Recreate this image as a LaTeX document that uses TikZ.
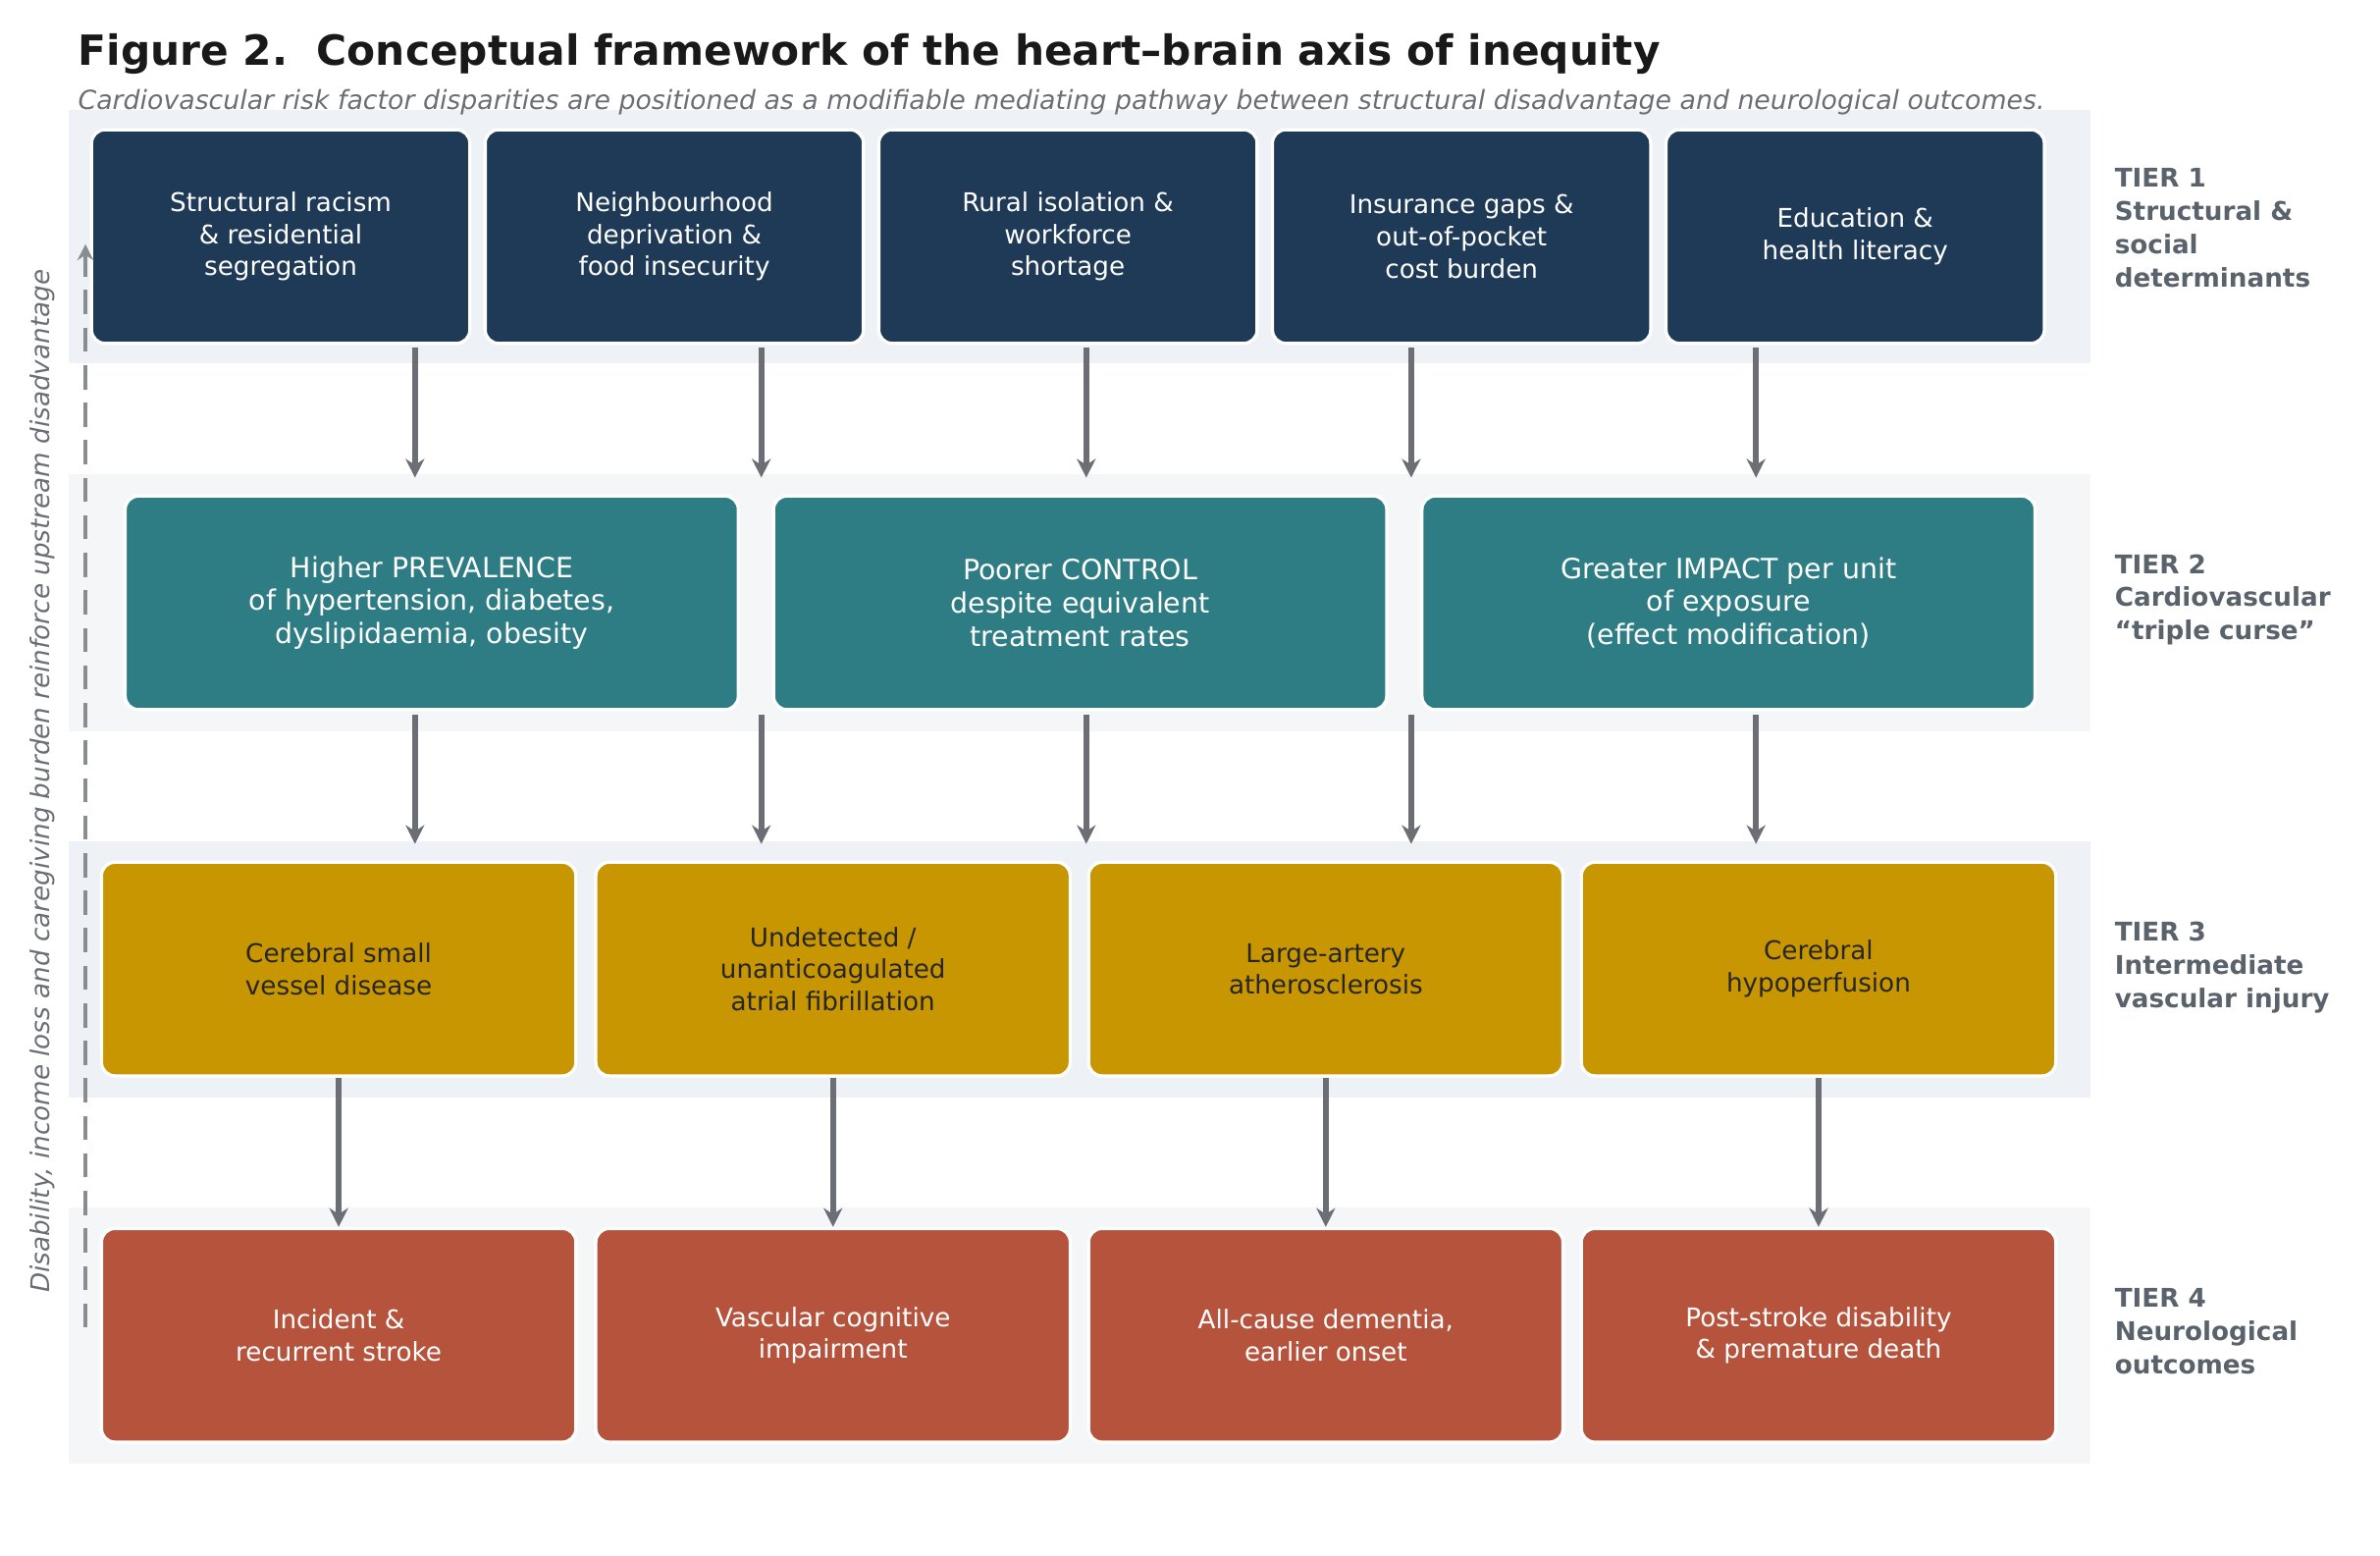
\documentclass[tikz,border=0pt]{standalone}
\usepackage{fontspec}
\setmainfont{DejaVu Sans}
\usetikzlibrary{arrows.meta}
\definecolor{hbnavy}{HTML}{1F3A57}
\definecolor{hbteal}{HTML}{2E7D84}
\definecolor{hbgold}{HTML}{C89600}
\definecolor{hbred}{HTML}{B5533C}
\definecolor{hbgray}{HTML}{6B6F75}
\definecolor{hblabel}{HTML}{5A626C}
\definecolor{hbband}{HTML}{EEF1F6}
\definecolor{hbbandlt}{HTML}{F5F6F8}
\tikzset{
  box/.style={draw=white, line width=1.2pt, rounded corners=5pt, align=center,
    font=\fontsize{9.6}{12}\selectfont, inner sep=0pt},
  arr/.style={-{Stealth[length=7pt,width=7pt]}, line width=2.3pt, hbgray},
  tier/.style={anchor=north west, align=left, hblabel,
    font=\fontsize{9.6}{12.4}\selectfont\bfseries}
}
\begin{document}
\begin{tikzpicture}[x=0.02cm, y=-0.02cm]
\useasboundingbox (0,0) rectangle (1560,1019);
% bands
\fill[hbband] (45,72) rectangle (1370,238);
\fill[hbbandlt] (45,311) rectangle (1370,479);
\fill[hbband] (45,551) rectangle (1370,719);
\fill[hbbandlt] (45,791) rectangle (1370,959);

% title
\node[anchor=base west, font=\fontsize{15.5}{18}\selectfont\bfseries, text=black!90] (title) at (45,43) {Figure 2.\ \ Conceptual framework of the heart–brain axis of inequity};
\node[anchor=base west, font=\fontsize{9.8}{12}\selectfont\itshape, text=hbgray] (sub) at (45,72) {Cardiovascular risk factor disparities are positioned as a modifiable mediating pathway between structural disadvantage and neurological outcomes.};

% Tier 1
\foreach \x/\n/\t in {184/a/{Structural racism\\\& residential\\segregation},
  442/b/{Neighbourhood\\deprivation \&\\food insecurity},
  700/c/{Rural isolation \&\\workforce\\shortage},
  958/d/{Insurance gaps \&\\out-of-pocket\\cost burden},
  1216/e/{Education \&\\health literacy}}
  \node[box, fill=hbnavy, text=white, minimum width=4.96cm, minimum height=2.8cm] (t1\n) at (\x,155) {\t};

% Tier 2
\foreach \x/\n/\t in {283/a/{Higher PREVALENCE\\of hypertension, diabetes,\\dyslipidaemia, obesity},
  708/b/{Poorer CONTROL\\despite equivalent\\treatment rates},
  1133/c/{Greater IMPACT per unit\\of exposure\\(effect modification)}}
  \node[box, fill=hbteal, text=white, minimum width=8.04cm, minimum height=2.8cm,
    font=\fontsize{10.4}{12.4}\selectfont] (t2\n) at (\x,395) {\t};

% Tier 3
\foreach \x/\n/\t in {222/a/{Cerebral small\\vessel disease},
  546/b/{Undetected /\\unanticoagulated\\atrial fibrillation},
  869/c/{Large-artery\\atherosclerosis},
  1192/d/{Cerebral\\hypoperfusion}}
  \node[box, fill=hbgold, text=black!85, minimum width=6.22cm, minimum height=2.8cm] (t3\n) at (\x,635) {\t};

% Tier 4
\foreach \x/\n/\t in {222/a/{Incident \&\\recurrent stroke},
  546/b/{Vascular cognitive\\impairment},
  869/c/{All-cause dementia,\\earlier onset},
  1192/d/{Post-stroke disability\\\& premature death}}
  \node[box, fill=hbred, text=white, minimum width=6.22cm, minimum height=2.8cm] (t4\n) at (\x,875) {\t};

% arrows tier 1 -> 2 -> 3
\foreach \x [count=\i] in {272,499,712,925,1151} {
  \coordinate (p\i) at (\x,228);
  \coordinate (q\i) at (\x,313);
  \coordinate (r\i) at (\x,468);
  \coordinate (s\i) at (\x,553);
  \draw[arr] (p\i) -- (q\i);
  \draw[arr] (r\i) -- (s\i);
}
% arrows tier 3 -> 4
\foreach \n in {a,b,c,d}
  \draw[arr] (t3\n.south) -- (t4\n.north);

% feedback
\coordinate (fb1) at (56,870);
\coordinate (fb2) at (56,160);
\draw[-{Stealth[length=6pt,width=6pt]}, dashed, dash pattern=on 9pt off 5pt, line width=1.4pt, hbgray!80] (fb1) -- (fb2);
\node[rotate=90, font=\fontsize{9.6}{12}\selectfont\itshape, text=hbgray] (fbl) at (28,512) {Disability, income loss and caregiving burden reinforce upstream disadvantage};

% tier labels
\node[tier] (l1) at (1380,104) {TIER 1\\Structural \&\\social\\determinants};
\node[tier] (l2) at (1380,357) {TIER 2\\Cardiovascular\\“triple curse”};
\node[tier] (l3) at (1380,598) {TIER 3\\Intermediate\\vascular injury};
\node[tier] (l4) at (1380,838) {TIER 4\\Neurological\\outcomes};
\end{tikzpicture}
\end{document}
